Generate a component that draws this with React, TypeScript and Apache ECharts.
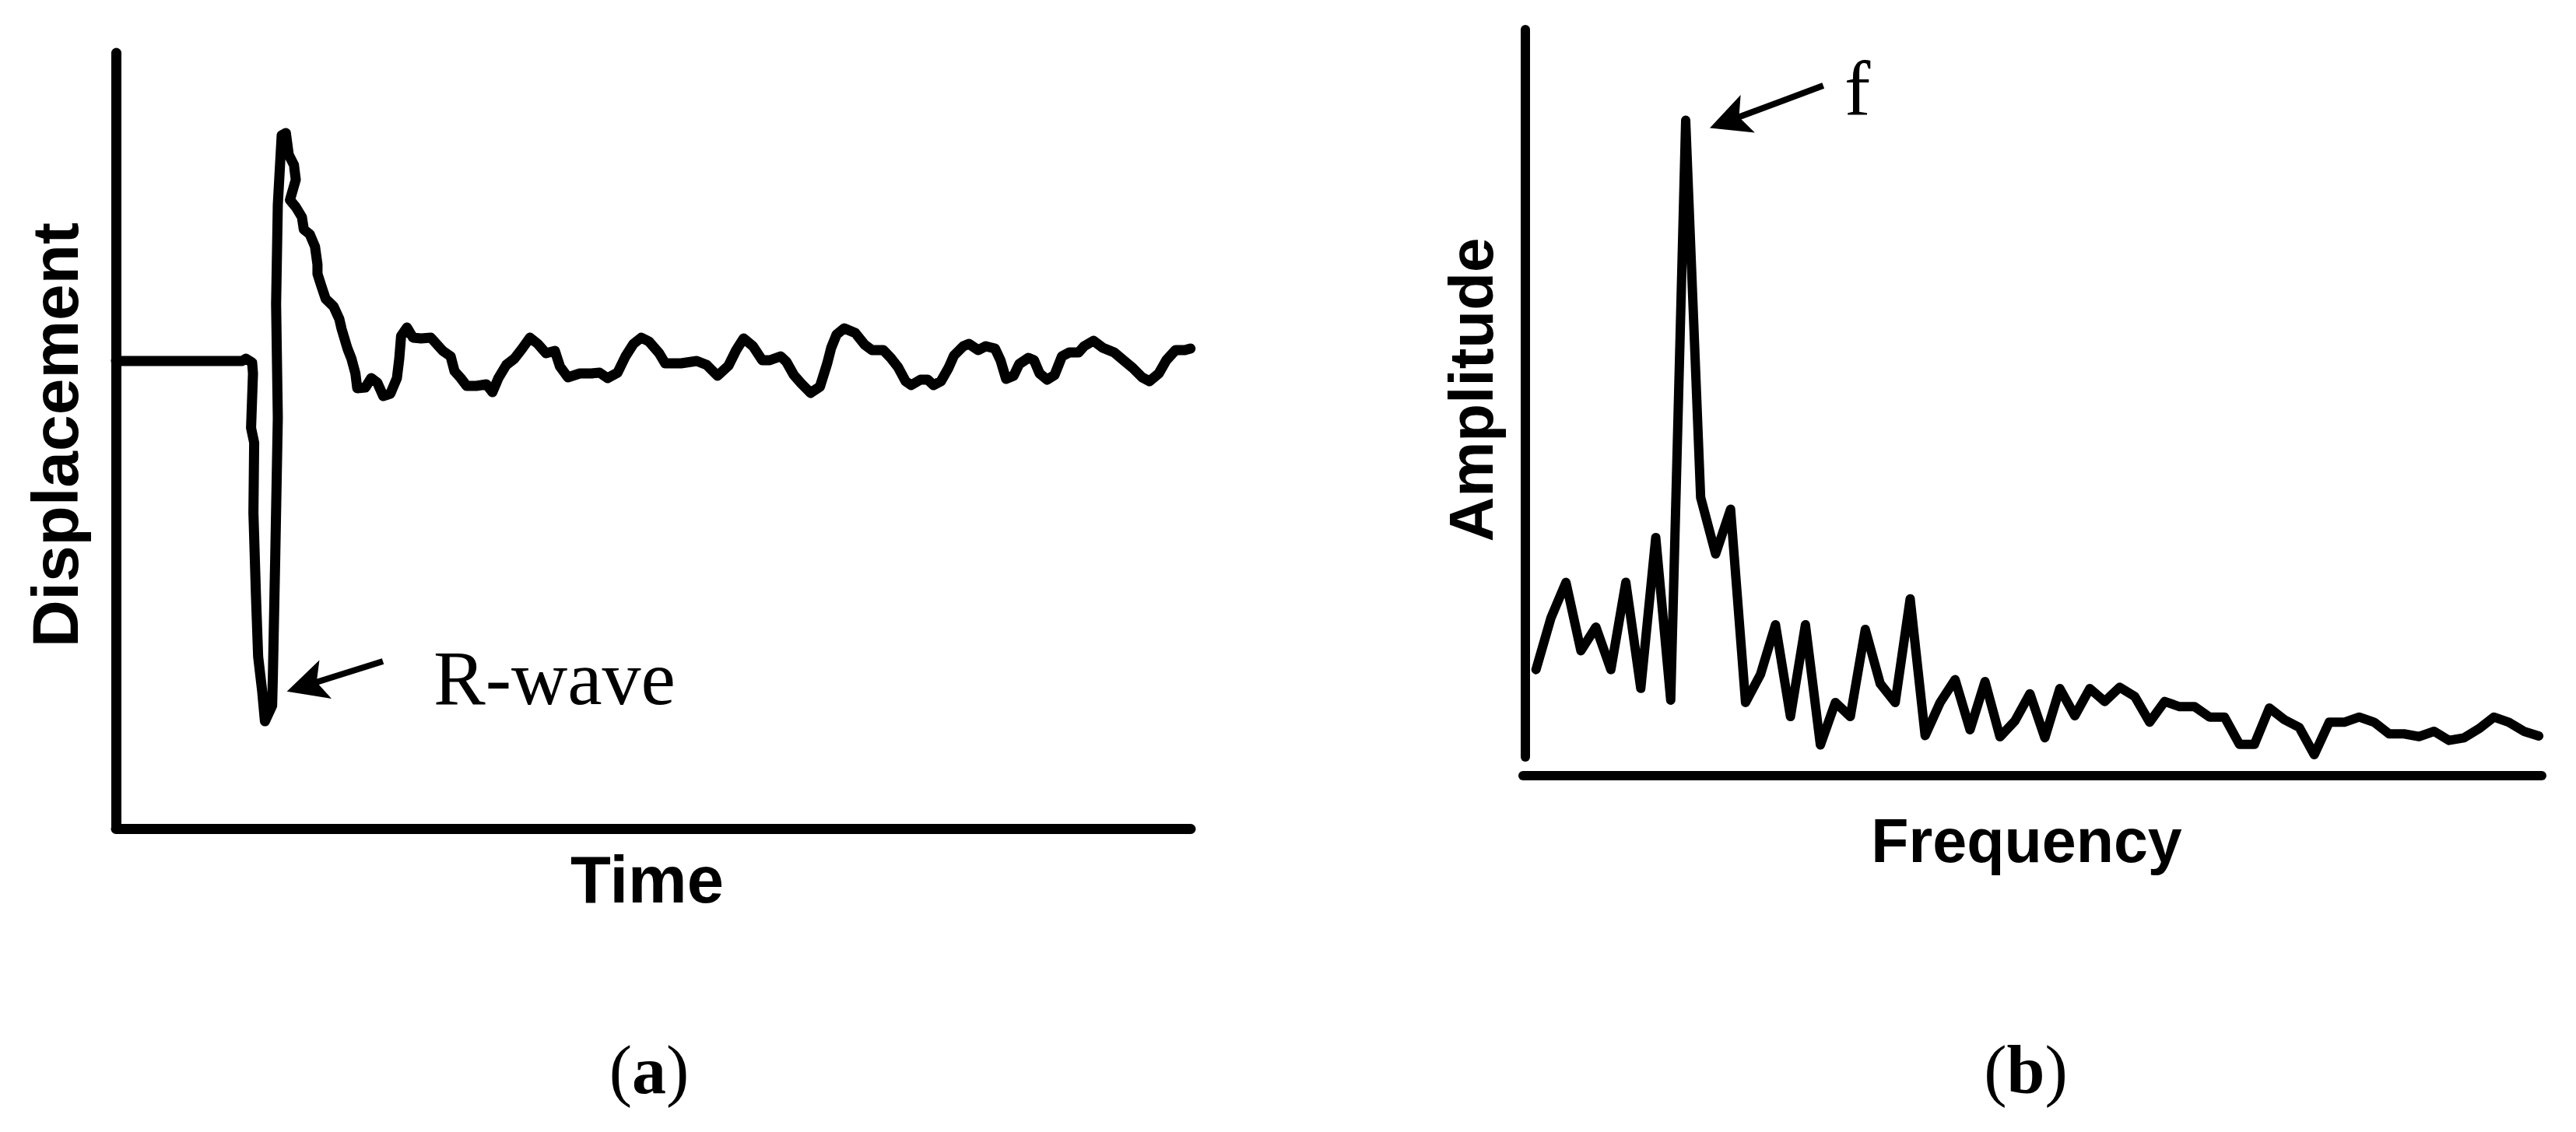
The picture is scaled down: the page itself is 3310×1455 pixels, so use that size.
import React, { useEffect, useRef } from "react";
import * as echarts from "echarts";

// ---------- Panel (a): displacement vs time (arbitrary units) ----------
const timeA = [
  0, 11.73, 12.09, 12.67, 12.75, 12.57, 12.86, 12.79, 13.03, 13.23, 13.6, 13.86, 14.53, 14.6, 14.82, 15.06,
  14.9, 15.06, 15.42, 15.81, 16.08, 16.56, 16.73, 16.19, 16.73, 17.3, 17.48, 18.03, 18.52, 18.75, 18.75,
  19.12, 19.51, 20.25, 20.78, 21.0, 21.54, 21.91, 22.28, 22.45, 23.21, 23.75, 24.32, 24.87, 25.53, 26.14,
  26.36, 26.53, 27.08, 27.64, 28.39, 29.3, 30.41, 31.14, 31.5, 32.08, 32.63, 33.53, 34.47, 35.03, 35.58,
  36.32, 37.07, 37.8, 38.52, 39.25, 40.01, 40.84, 41.31, 42.05, 43.16, 44.24, 45.0, 45.74, 46.67, 47.41,
  48.15, 48.88, 49.6, 50.54, 51.1, 52.57, 54.04, 54.96, 55.97, 56.99, 57.71, 58.4, 59.27, 60.13, 60.83,
  61.84, 62.38, 63.07, 63.77, 64.63, 65.5, 66.18, 66.55, 67.05, 67.76, 68.79, 69.66, 70.35, 71.4, 72.09,
  72.77, 73.47, 73.99, 74.86, 75.53, 76.07, 76.76, 77.46, 77.97, 78.84, 79.36, 80.23, 80.92, 81.79, 82.3,
  82.82, 83.52, 84.04, 84.9, 85.42, 85.94, 86.64, 87.33, 88.02, 88.7, 89.57, 90.08, 90.95, 91.82, 92.88,
  93.74, 94.61, 95.48, 96.16, 97.03, 97.73, 98.59, 99.46, 99.98,
];
const dispA = [
  0, 0, 0.03, -0.02, -0.16, -0.86, -1.05, -1.95, -3.03, -3.8, -4.24, -4.63, -4.43, -4.05, -2.52, -0.73,
  0.73, 2.01, 2.9, 2.93, 2.65, 2.52, 2.33, 2.07, 1.98, 1.85, 1.69, 1.63, 1.47, 1.24, 1.12,
  0.96, 0.8, 0.7, 0.54, 0.41, 0.16, 0.03, -0.16, -0.35, -0.34, -0.22, -0.28, -0.45, -0.42, -0.22,
  0.03, 0.32, 0.43, 0.3, 0.29, 0.3, 0.13, 0.06, -0.13, -0.22, -0.32, -0.32, -0.3, -0.4, -0.22,
  -0.05, 0.03, 0.16, 0.3, 0.22, 0.1, 0.13, -0.07, -0.21, -0.16, -0.16, -0.15, -0.22, -0.15, 0.06,
  0.22, 0.3, 0.25, 0.1, -0.03, -0.03, 0.0, -0.05, -0.19, -0.06, 0.14, 0.29, 0.19, 0.01, 0.01,
  0.06, -0.01, -0.18, -0.29, -0.41, -0.33, -0.03, 0.17, 0.34, 0.42, 0.36, 0.21, 0.14, 0.14, 0.04,
  -0.08, -0.26, -0.31, -0.24, -0.24, -0.31, -0.26, -0.09, 0.07, 0.19, 0.22, 0.14, 0.19, 0.16, 0.01,
  -0.23, -0.19, -0.04, 0.04, 0.01, -0.16, -0.24, -0.18, 0.06, 0.11, 0.11, 0.19, 0.26, 0.17, 0.11,
  0.01, -0.09, -0.21, -0.26, -0.16, 0.01, 0.14, 0.14, 0.16,
];
const timeRange = [0, 100];
const dispRange = [-6.01, 3.96];
// R-wave annotation arrow: [time, displacement] of tail and head
const rWaveArrowFrom = [24.84, -3.86];
const rWaveArrowTo = [17.7, -4.17];

// ---------- Panel (b): amplitude spectrum ----------
const freqB = [
  1, 2, 3, 4, 5, 6, 7, 8, 9, 10, 11, 12, 13, 14, 15, 16, 17, 18, 19, 20, 21, 22, 23, 24, 25, 26, 27, 28, 29, 30,
  31, 32, 33, 34, 35, 36, 37, 38, 39, 40, 41, 42, 43, 44, 45, 46, 47, 48, 49, 50, 51, 52, 53, 54, 55, 56, 57, 58,
  59, 60, 61, 62, 63, 64, 65, 66, 67, 68,
];
const ampB = [
  12.02, 19.14, 24.01, 14.61, 17.86, 12.02, 24.01, 9.43, 30.17, 7.81,
  87.54, 35.68, 27.91, 34.06, 7.49, 11.37, 18.18, 5.56, 18.18, 1.65,
  7.49, 5.56, 17.54, 10.07, 7.49, 21.74, 2.94, 7.49, 10.64, 3.74,
  10.37, 2.78, 4.95, 8.7, 2.64, 9.41, 5.67, 9.41, 7.63, 9.59,
  8.34, 4.78, 7.63, 6.92, 6.92, 5.49, 5.49, 1.74, 1.74, 6.74,
  5.13, 4.06, 0.32, 4.78, 4.78, 5.49, 4.78, 3.18, 3.18, 2.81,
  3.53, 2.28, 2.64, 3.88, 5.49, 4.78, 3.53, 2.89,
];
const freqRange = [0.132, 68.2];
const ampRange = [0, 100];
const fArrowFrom = [20.19, 92.3];
const fArrowTo = [13.88, 87.45];

// ---------- labels ----------
const labelTimeA = "Time";
const labelDispA = "Displacement";
const labelFreqB = "Frequency";
const labelAmpB = "Amplitude";
const annotRWave = "R-wave";
const annotF = "f";
const panelA = "a";
const panelB = "b";

const SANS = '"Liberation Sans", Arial, sans-serif';
const SERIF = '"Liberation Serif", "Times New Roman", serif';
// notched arrow head, tip pointing up
const ARROW_HEAD = "path://M25,0 L50,52 L25,40 L0,52 Z";

function axisLineStyle(width: number) {
  return { show: true, onZero: false, lineStyle: { color: "#000", width, cap: "round" } };
}

function arrowMarkLine(from: number[], to: number[], width: number) {
  return {
    silent: true,
    symbol: ["none", ARROW_HEAD],
    symbolSize: 52,
    label: { show: false },
    emphasis: { disabled: true },
    lineStyle: { color: "#000", width, type: "solid", opacity: 1 },
    data: [[{ coord: from }, { coord: to }]],
  };
}

export default function App() {
  const ref = useRef<HTMLDivElement>(null);

  useEffect(() => {
    if (!ref.current) return;
    const chart = echarts.init(ref.current, null, { renderer: "svg" });

    const option: any = {
      animation: false,
      backgroundColor: "#fff",
      grid: [
        { left: 149, top: 68, width: 1381, height: 997, outerBoundsMode: "none", containLabel: false },
        { left: 1957, top: 38, width: 1309, height: 935, outerBoundsMode: "none", containLabel: false },
      ],
      xAxis: [
        {
          type: "value",
          gridIndex: 0,
          min: timeRange[0],
          max: timeRange[1],
          axisLine: axisLineStyle(13),
          axisTick: { show: false },
          axisLabel: { show: false },
          splitLine: { show: false },
          name: labelTimeA,
          nameLocation: "middle",
          nameGap: 23,
          nameTextStyle: { fontFamily: SANS, fontWeight: "bold", fontSize: 85, color: "#000", padding: [0, 16, 0, 0] },
        },
        {
          type: "value",
          gridIndex: 1,
          min: freqRange[0],
          max: freqRange[1],
          offset: 24,
          axisLine: axisLineStyle(12),
          axisTick: { show: false },
          axisLabel: { show: false },
          splitLine: { show: false },
          name: labelFreqB,
          nameLocation: "middle",
          nameGap: 44,
          nameTextStyle: { fontFamily: SANS, fontWeight: "bold", fontSize: 79, color: "#000", padding: [0, 15, 0, 0] },
        },
      ],
      yAxis: [
        {
          type: "value",
          gridIndex: 0,
          min: dispRange[0],
          max: dispRange[1],
          axisLine: axisLineStyle(13),
          axisTick: { show: false },
          axisLabel: { show: false },
          splitLine: { show: false },
          name: labelDispA,
          nameLocation: "middle",
          nameRotate: 90,
          nameGap: 36,
          nameTextStyle: { fontFamily: SANS, fontWeight: "bold", fontSize: 84, color: "#000", padding: [0, 0, 0, 15] },
        },
        {
          type: "value",
          gridIndex: 1,
          min: ampRange[0],
          max: ampRange[1],
          offset: -2.5,
          axisLine: axisLineStyle(12),
          axisTick: { show: false },
          axisLabel: { show: false },
          splitLine: { show: false },
          name: labelAmpB,
          nameLocation: "middle",
          nameRotate: 90,
          nameGap: 29,
          nameTextStyle: { fontFamily: SANS, fontWeight: "bold", fontSize: 80, color: "#000", padding: [0, 0, 0, 9] },
        },
      ],
      series: [
        {
          type: "line",
          xAxisIndex: 0,
          yAxisIndex: 0,
          data: timeA.map((t, i) => [t, dispA[i]]),
          symbol: "none",
          showSymbol: false,
          clip: false,
          silent: true,
          lineStyle: { color: "#000", width: 13, join: "round", cap: "round" },
          markLine: arrowMarkLine(rWaveArrowFrom, rWaveArrowTo, 8),
        },
        {
          type: "line",
          xAxisIndex: 1,
          yAxisIndex: 1,
          data: freqB.map((f, i) => [f, ampB[i]]),
          symbol: "none",
          showSymbol: false,
          clip: false,
          silent: true,
          lineStyle: { color: "#000", width: 12, join: "round", cap: "round" },
          markLine: arrowMarkLine(fArrowFrom, fArrowTo, 8),
        },
      ],
      graphic: [
        {
          type: "text",
          x: 557,
          y: 871,
          silent: true,
          style: { text: annotRWave, font: `100px ${SERIF}`, fill: "#000", textAlign: "left", textVerticalAlign: "middle" },
        },
        {
          type: "text",
          x: 2370,
          y: 114,
          silent: true,
          style: { text: annotF, font: `100px ${SERIF}`, fill: "#000", textAlign: "left", textVerticalAlign: "middle" },
        },
        {
          type: "text",
          x: 834,
          y: 1375,
          silent: true,
          style: {
            text: `{p|(}{b|${panelA}}{p|)}`,
            fill: "#000",
            textAlign: "center",
            textVerticalAlign: "middle",
            rich: {
              p: { font: `88px ${SERIF}`, fill: "#000" },
              b: { font: `bold 88px ${SERIF}`, fill: "#000" },
            },
          },
        },
        {
          type: "text",
          x: 2603,
          y: 1375,
          silent: true,
          style: {
            text: `{p|(}{b|${panelB}}{p|)}`,
            fill: "#000",
            textAlign: "center",
            textVerticalAlign: "middle",
            rich: {
              p: { font: `88px ${SERIF}`, fill: "#000" },
              b: { font: `bold 88px ${SERIF}`, fill: "#000" },
            },
          },
        },
      ],
    };

    chart.setOption(option);
    return () => chart.dispose();
  }, []);

  return (
    <div
      ref={ref}
      style={{ position: "absolute", left: 0, top: 0, width: 3310, height: 1455, background: "#fff" }}
    />
  );
}
